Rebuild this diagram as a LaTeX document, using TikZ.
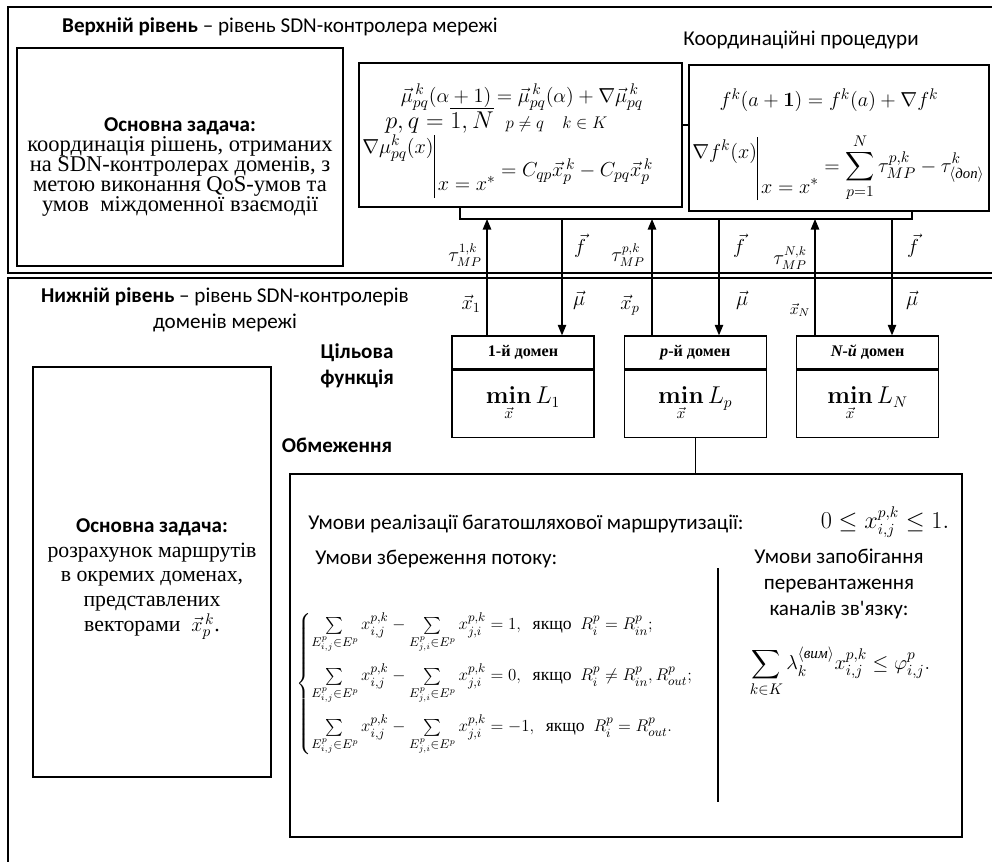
\documentclass[tikz,border=0pt]{standalone}
\usepackage{amsmath}
\usepackage[no-math]{fontspec}
\setmainfont{Liberation Serif}
\setsansfont{Carlito}
\usetikzlibrary{arrows.meta,positioning}

\begin{document}
\begin{tikzpicture}[x=0.025cm, y=-0.025cm,
  frame/.style={line width=1.3pt},
  box/.style={draw, line width=0.9pt, inner sep=0pt},
  arr/.style={line width=0.9pt, -{Triangle[length=7.5pt,width=6pt]}},
  sans/.style={inner sep=0pt, align=center, font=\sffamily\fontsize{15}{18.4}\selectfont},
  bsans/.style={sans, font=\sffamily\bfseries\fontsize{15}{18.4}\selectfont},
  body/.style={inner sep=0pt, align=center, font=\fontsize{16}{14.2}\selectfont},
  fml/.style={inner sep=0pt, font=\fontsize{15}{18}\selectfont},
  lbl/.style={inner sep=0pt, font=\fontsize{14}{16}\selectfont},
  domhead/.style={box, minimum width=3.55cm, minimum height=0.825cm, font=\bfseries\fontsize{11.5}{13}\selectfont},
  dombody/.style={box, minimum width=3.55cm, minimum height=1.675cm, font=\fontsize{16}{18}\selectfont}]
\useasboundingbox (0,0) rectangle (992,861);

% two levels
\draw[frame] (8,7) rectangle (1005,273);
\draw[frame] (8,278) rectangle (1005,875);

% upper level
\node[sans] (toptitle) at (280,27) {\textbf{Верхній рівень} – рівень SDN-контролера мережі};
\node[sans] (proctitle) at (801,40) {Координаційні процедури};
\node[box, minimum width=8.15cm, minimum height=5.45cm] (task1) at (180,157) {};
\node[body] (task1txt) at (180,167) {{\sffamily\bfseries\fontsize{15}{14.2}\selectfont Основна задача:}\\
  координація рішень, отриманих\\ на SDN-контролерах доменів, з\\
  метою виконання QoS-умов та\\ умов\ \ міждоменної взаємодії};

\node[box, minimum width=8.075cm, minimum height=3.6cm] (proc1) at (520.5,135) {};
\node[box, minimum width=7.5cm, minimum height=3.65cm] (proc2) at (839,138) {};
\draw[line width=0.9pt] ([yshift=0.25cm]proc1.east) -- ([yshift=0.25cm]proc1.east -| proc2.west);

\node[fml, font=\fontsize{15.5}{18}\selectfont] (mu1) at (522,97) {$\vec{\mu}_{pq}^{\,k}(\alpha+1)=\vec{\mu}_{pq}^{\,k}(\alpha)+\nabla\vec{\mu}_{pq}^{\,k}$};
\node[fml, anchor=west, font=\fontsize{17}{18}\selectfont] (mu2) at (385,120) {$p,q=\overline{1,N}$\ \ {\fontsize{13}{15}\selectfont$p\ne q\quad k\in K$}};
\node[fml, anchor=base west] (mu3) at (362,153) {$\nabla\mu_{pq}^{k}(x)\rule[-32pt]{0.6pt}{45pt}\,\raisebox{-27pt}{$x=x^{*}$}\raisebox{-17pt}{$\;=C_{qp}\vec{x}_p^{\,k}-C_{pq}\vec{x}_p^{\,k}$}$};
\node[fml] (f1) at (829,100) {$f^{k}\mathbf{(}a+\mathbf{1)}=f^{k}\mathbf{(}a\mathbf{)}+\nabla f^{k}$};
\node[fml, anchor=base west] (f2) at (692,158) {$\nabla f^{k}(x)\rule[-30pt]{0.6pt}{45pt}\,\raisebox{-25pt}{$x=x^{*}$}\raisebox{-10pt}{$\;=\displaystyle\sum_{p=1}^{N}\tau_{MP}^{p,k}-\tau_{\langle\textit{доп}\rangle}^{k}$}$};

% bracket under the procedures
\coordinate (brL) at (460,219);
\coordinate (brR) at (912,219);
\draw[line width=0.9pt] (brL |- proc1.south) -- (brL) -- (brR) -- (brR |- proc2.south);

% lower level
\node[sans] (lowtitle) at (225,310) {\textbf{Нижній рівень} – рівень SDN-контролерів\\ доменів мережі};
\node[bsans] (goal) at (357,366) {Цільова\\функція};
\node[bsans] (limtitle) at (337,445) {Обмеження};

\node[domhead] (dom1h) at (523,352.5) {1-й домен};
\node[domhead, right=0.725cm of dom1h] (dom2h) {\textit{p}-й домен};
\node[domhead, right=0.725cm of dom2h] (dom3h) {\textit{N-й} домен};
\node[dombody, below=0pt of dom1h] (dom1) {$\mathop{\mathbf{min}}\limits_{\vec{x}} L_1$};
\node[dombody, below=0pt of dom2h] (dom2) {$\mathop{\mathbf{min}}\limits_{\vec{x}} L_p$};
\node[dombody, below=0pt of dom3h] (dom3) {$\mathop{\mathbf{min}}\limits_{\vec{x}} L_N$};

% exchange between levels
\coordinate (up1) at (487,219);
\coordinate (dn1) at (562,219);
\coordinate (up2) at (652,219);
\coordinate (dn2) at (719,219);
\coordinate (up3) at (815,219);
\coordinate (dn3) at (892,219);
\draw[arr] (up1 |- dom1h.north) -- (up1);
\draw[arr] (dn1) -- (dn1 |- dom1h.north);
\draw[arr] (up2 |- dom2h.north) -- (up2);
\draw[arr] (dn2) -- (dn2 |- dom2h.north);
\draw[arr] (up3 |- dom3h.north) -- (up3);
\draw[arr] (dn3) -- (dn3 |- dom3h.north);

\node[lbl, font=\fontsize{13.5}{15}\selectfont] (tau1) at (465,255) {$\tau_{MP}^{1,k}$};
\node[lbl] (fv1) at (580,246) {$\vec{f}$};
\node[lbl, font=\fontsize{13.5}{15}\selectfont] (taup) at (628,255) {$\tau_{MP}^{p,k}$};
\node[lbl] (fv2) at (739,246) {$\vec{f}$};
\node[lbl, font=\fontsize{13.5}{15}\selectfont] (tauN) at (790,258) {$\tau_{MP}^{N,k}$};
\node[lbl] (fv3) at (913,246) {$\vec{f}$};
\node[lbl] (xv1) at (471,304) {$\vec{x}_1$};
\node[lbl] (muv1) at (579,300) {$\vec{\mu}$};
\node[lbl] (xvp) at (630,305) {$\vec{x}_p$};
\node[lbl] (muv2) at (742,300) {$\vec{\mu}$};
\node[lbl, font=\fontsize{11}{13}\selectfont] (xvN) at (800,310) {$\vec{x}_N$};
\node[lbl] (muv3) at (912,300) {$\vec{\mu}$};

% routing task
\node[box, minimum width=5.95cm, minimum height=10.25cm] (task2) at (152,572) {};
\node[body, font=\fontsize{15.5}{17.7}\selectfont] (task2txt) at (152,579) {{\sffamily\bfseries\fontsize{15}{17.7}\selectfont Основна задача:}\\
  розрахунок маршрутів\\ в окремих доменах,\\ представлених\\ векторами\ \ $\vec{x}_p^{\,k}$.};

% constraints
\node[box, minimum width=16.8cm, minimum height=9.075cm] (limits) at (626,655.5) {};
\draw[line width=0.9pt] (dom2) -- (dom2 |- limits.north);
\node[sans, anchor=west] (cond1) at (308,524) {Умови реалізації багатошляхової маршрутизації:};
\node[fml, font=\fontsize{16}{18}\selectfont] (cond1f) at (885,522) {$0\le x_{i,j}^{p,k}\le 1\mathbf{.}$};
\node[sans, anchor=west] (cond2) at (315,559) {Умови збереження потоку:};
\node[sans] (cond3) at (839,584) {Умови запобігання\\ перевантаження\\ каналів зв\textquotesingle язку:};
\coordinate (dvt) at (718,568);
\coordinate (dvb) at (718,802);
\draw[line width=0.9pt] (dvt) -- (dvb);
\node[fml, anchor=west, font=\fontsize{12.5}{14}\selectfont] (flow) at (296,684) {$\left\{\begin{array}{@{}l@{}}
  \sum\limits_{E_{i,j}^{p}\in E^{p}} x_{i,j}^{p,k}-\sum\limits_{E_{j,i}^{p}\in E^{p}} x_{j,i}^{p,k}=1,\ \ \text{якщо}\ \ R_i^p=R_{in}^p;\\[20pt]
  \sum\limits_{E_{i,j}^{p}\in E^{p}} x_{i,j}^{p,k}-\sum\limits_{E_{j,i}^{p}\in E^{p}} x_{j,i}^{p,k}=0,\ \ \text{якщо}\ \ R_i^p\ne R_{in}^p,R_{out}^p;\\[20pt]
  \sum\limits_{E_{i,j}^{p}\in E^{p}} x_{i,j}^{p,k}-\sum\limits_{E_{j,i}^{p}\in E^{p}} x_{j,i}^{p,k}=-1,\ \ \text{якщо}\ \ R_i^p=R_{out}^p.
\end{array}\right.$};
\node[fml, font=\fontsize{15.5}{18}\selectfont] (load) at (840,672) {$\displaystyle\sum_{k\in K}\lambda_k^{\langle\textit{вим}\rangle}x_{i,j}^{p,k}\le\varphi_{i,j}^{p}\mathbf{.}$};
\end{tikzpicture}
\end{document}
